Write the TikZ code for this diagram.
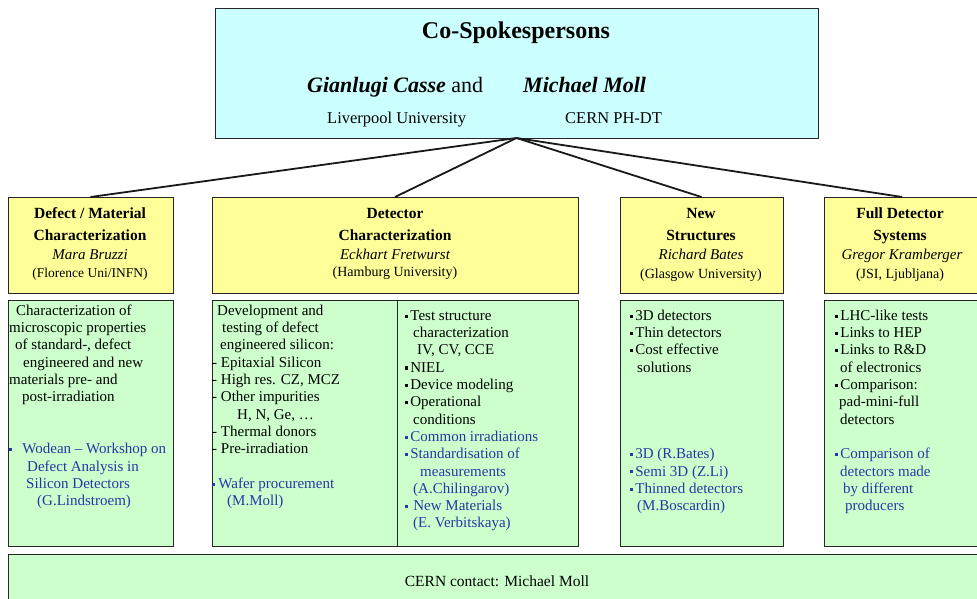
\documentclass[tikz,border=0pt]{standalone}
\usepackage{fontspec}
\setmainfont{Liberation Serif}
\definecolor{topfill}{RGB}{204,255,255}
\definecolor{yfill}{RGB}{255,255,153}
\definecolor{gfill}{RGB}{204,255,204}
\definecolor{bluetxt}{RGB}{40,55,165}
\newcommand{\sq}{\raisebox{2.6pt}{\rule{3.2pt}{3.2pt}}}
\newcommand{\fsz}[2]{\fontsize{#1}{#2}\selectfont}
\newcommand{\bl}{\color{bluetxt}}
\begin{document}
\begin{tikzpicture}[x=1pt,y=-1pt,
  box/.style={draw=black!85, line width=1pt, inner sep=0pt, outer sep=0pt, anchor=north west},
  conn/.style={line width=1.8pt, black!90},
  txt/.style={inner sep=0pt, anchor=base},
  hbold/.style={txt, font=\fsz{15.5}{18}\bfseries},
  hname/.style={txt, font=\fsz{15}{17}\itshape},
  haff/.style={txt, font=\fsz{14}{16}},
  gtxt/.style={inner sep=0pt, anchor=north west, align=left, font=\fsz{15}{17.3}}]
\useasboundingbox (0,0) rectangle (977,598);
\fill[white] (0,0) rectangle (977,598);

% boxes
\node[box, fill=topfill, minimum width=603pt, minimum height=130pt] (top) at (215,8) {};
\node[box, fill=yfill, minimum width=165pt, minimum height=96pt] (h1) at (8,197) {};
\node[box, fill=yfill, minimum width=366pt, minimum height=96pt] (h2) at (212,197) {};
\node[box, fill=yfill, minimum width=163pt, minimum height=96pt] (h3) at (620,197) {};
\node[box, fill=yfill, minimum width=156pt, minimum height=96pt] (h4) at (824,197) {};
\node[box, fill=gfill, minimum width=165pt, minimum height=246pt] (g1) at (8,300) {};
\node[box, fill=gfill, minimum width=185pt, minimum height=246pt] (g2a) at (212,300) {};
\node[box, fill=gfill, minimum width=181pt, minimum height=246pt] (g2b) at (397,300) {};
\node[box, fill=gfill, minimum width=163pt, minimum height=246pt] (g3) at (620,300) {};
\node[box, fill=gfill, minimum width=156pt, minimum height=246pt] (g4) at (824,300) {};
\node[box, fill=gfill, minimum width=975pt, minimum height=50pt] (bot) at (8,554) {};

% connectors
\draw[conn] (top.south) -- (h1.north);
\draw[conn] (top.south) -- (h2.north);
\draw[conn] (top.south) -- (h3.north);
\draw[conn] (top.south) -- (h4.north);

% top box text
\node[txt, font=\fsz{24}{28}\bfseries] (ttl) at (516,38) {Co-Spokespersons};
\node[txt, anchor=base west, font=\fsz{22}{26}] (nm1) at (307,92) {\textbf{\textit{Gianlugi Casse}} and};
\node[txt, anchor=base west, font=\fsz{22}{26}\bfseries\itshape] (nm2) at (523,92) {Michael Moll};
\node[txt, anchor=base west, font=\fsz{16.5}{20}] (af1) at (327,123) {Liverpool University};
\node[txt, anchor=base west, font=\fsz{16.5}{20}] (af2) at (565,123) {CERN PH-DT};

% headers
\node[hbold] (h1a) at (90,218) {Defect / Material};
\node[hbold] (h1b) at (90,240) {Characterization};
\node[hname] (h1c) at (90,259) {Mara Bruzzi};
\node[haff, font=\fsz{13.5}{16}] (h1d) at (90,277) {(Florence Uni/INFN)};

\node[hbold] (h2a) at (395,218) {Detector};
\node[hbold] (h2b) at (395,240) {Characterization};
\node[hname] (h2c) at (395,259) {Eckhart Fretwurst};
\node[haff] (h2d) at (395,276) {(Hamburg University)};

\node[hbold] (h3a) at (701,218) {New};
\node[hbold] (h3b) at (701,240) {Structures};
\node[hname] (h3c) at (701,259) {Richard Bates};
\node[haff] (h3d) at (701,278) {(Glasgow University)};

\node[hbold] (h4a) at (900,218) {Full Detector};
\node[hbold] (h4b) at (900,240) {Systems};
\node[hname] (h4c) at (902,259) {Gregor Kramberger};
\node[haff] (h4d) at (900,278) {(JSI, Ljubljana)};

% green box texts
\node[gtxt] (t1) at (9,303) {%
\hspace*{7pt}\strut Characterization of\\
microscopic properties\\
\hspace*{6pt}of standard-, defect\\
\hspace*{14pt}engineered and new\\
materials pre- and\\
\hspace*{13pt}post-irradiation\\
\strut\\
\strut\\
\bl\sq\hspace*{10pt}Wodean -- Workshop on\\
\bl\hspace*{18pt}Defect Analysis in\\
\bl\hspace*{17pt}Silicon Detectors\\
\bl\hspace*{28pt}(G.Lindstroem)};

\node[gtxt] (t2a) at (212,303) {%
\hspace*{5pt}\strut Development and\\
\hspace*{10pt}testing of defect\\
\hspace*{8pt}engineered silicon:\\
- Epitaxial Silicon\\
- High res. CZ, MCZ\\
- Other impurities\\
\hspace*{25pt}H, N, Ge, …\\
- Thermal donors\\
- Pre-irradiation\\
\strut\\
\bl\sq\hspace*{3pt}Wafer procurement\\
\bl\hspace*{15pt}(M.Moll)};

\node[gtxt] (t2b) at (405,308) {%
\sq\hspace*{2pt}\strut Test structure\\
\hspace*{8pt}characterization\\
\hspace*{12pt}IV, CV, CCE\\
\sq\hspace*{2pt}NIEL\\
\sq\hspace*{2pt}Device modeling\\
\sq\hspace*{2pt}Operational\\
\hspace*{8pt}conditions\\
\bl\sq\hspace*{2pt}Common irradiations\\
\bl\sq\hspace*{2pt}Standardisation of\\
\bl\hspace*{15pt}measurements\\
\bl\hspace*{8pt}(A.Chilingarov)\\
\bl\sq\hspace*{5pt}New Materials\\
\bl\hspace*{8pt}(E. Verbitskaya)};

\node[gtxt] (t3) at (630,308) {%
\sq\hspace*{2pt}\strut 3D detectors\\
\sq\hspace*{2pt}Thin detectors\\
\sq\hspace*{2pt}Cost effective\\
\hspace*{7pt}solutions\\
\strut\\
\strut\\
\strut\\
\strut\\
\bl\sq\hspace*{2pt}3D (R.Bates)\\
\bl\sq\hspace*{2pt}Semi 3D (Z.Li)\\
\bl\sq\hspace*{2pt}Thinned detectors\\
\bl\hspace*{7pt}(M.Boscardin)};

\node[gtxt] (t4) at (835,308) {%
\sq\hspace*{2pt}\strut LHC-like tests\\
\sq\hspace*{2pt}Links to HEP\\
\sq\hspace*{2pt}Links to R\&D\\
\hspace*{5pt}of electronics\\
\sq\hspace*{2pt}Comparison:\\
\hspace*{4pt}pad-mini-full\\
\hspace*{5pt}detectors\\
\strut\\
\bl\sq\hspace*{2pt}Comparison of\\
\bl\hspace*{5pt}detectors made\\
\bl\hspace*{8pt}by different\\
\bl\hspace*{10pt}producers};

\node[txt, font=\fsz{15.5}{18}] (cern) at (497,586) {CERN contact: Michael Moll};
\end{tikzpicture}
\end{document}
